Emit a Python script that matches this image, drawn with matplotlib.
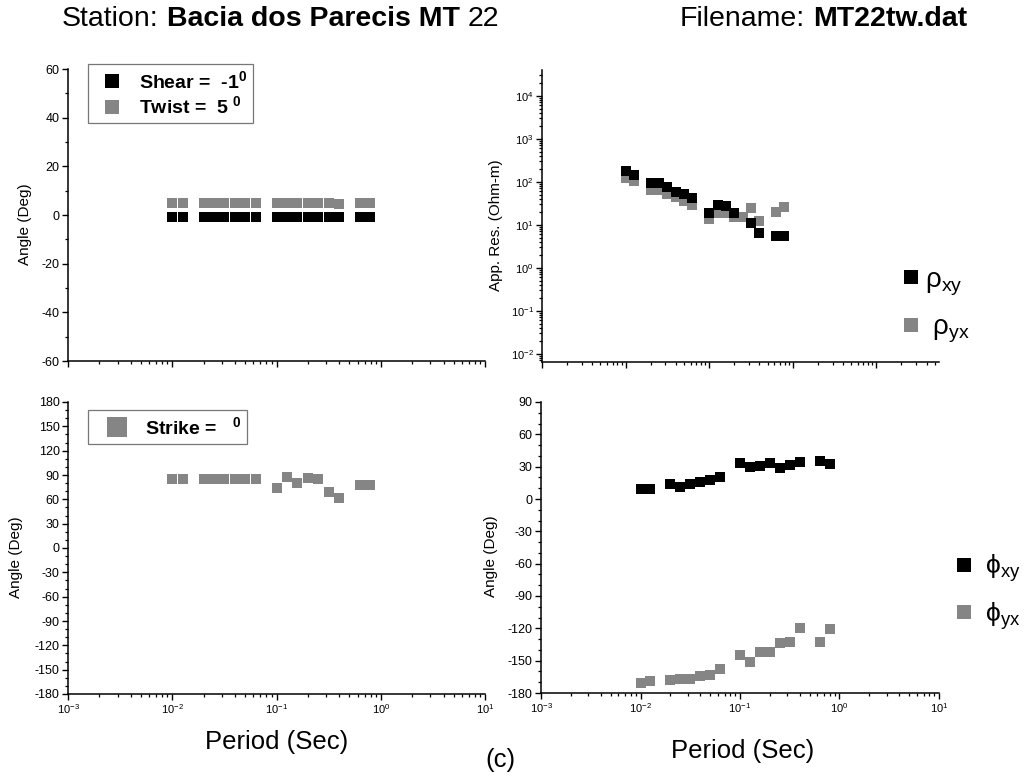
import numpy as np
import matplotlib
matplotlib.use("Agg")
import matplotlib.pyplot as plt
from matplotlib.ticker import MultipleLocator, FixedLocator, NullFormatter

plt.rcParams['font.family'] = ['Liberation Sans', 'DejaVu Sans']
plt.rcParams['mathtext.fontset'] = 'custom'
plt.rcParams['mathtext.rm'] = 'Liberation Sans'
plt.rcParams['mathtext.bf'] = 'Liberation Sans:bold'
plt.rcParams['mathtext.it'] = 'Liberation Sans:italic'
plt.rcParams['axes.unicode_minus'] = False

# ---------------- data ----------------
periods = [0.01, 0.0126, 0.02, 0.0251, 0.0316, 0.0398, 0.0501, 0.0631,
           0.1, 0.126, 0.158, 0.2, 0.251, 0.316, 0.398, 0.631, 0.794]
shear = [-1] * 17
twist = [5, 5, 5, 5, 5, 5, 5, 5, 5, 5, 5, 5, 5, 5, 4.4, 5, 5]
strike = [85.4, 85.4, 85.4, 85.4, 85.4, 85.4, 85.4, 85.4,
          74.3, 87.4, 80.4, 85.8, 84.5, 68.5, 61.5, 77.1, 77.1]

periods_rxy = [0.01, 0.0126, 0.02, 0.0251, 0.0316, 0.0398, 0.0501, 0.0631,
               0.1, 0.126, 0.158, 0.2, 0.316, 0.398, 0.631, 0.794]
rho_xy = [183, 146, 96, 93, 75, 59, 52, 42, 19.3, 29, 27.7, 19.3, 11, 6.6, 5.5, 5.5]
rho_yx = [122, 102, 63, 63, 53, 45, 35, 29, 13.5, 18.7, 18.7, 15.5, 15, 24.5, 12, 20.4, 25.7]

phi_xy = [9.3, 9.3, 13.9, 10.8, 13.9, 16, 17.6, 20.7, 33.6, 29.3, 30.6, 33,
          28.4, 31.5, 34.6, 35.5, 32.4]
phi_yx = [-171, -169, -167.6, -166.7, -166.7, -164.5, -163, -158, -144.8, -151.5,
          -142.3, -142.3, -133.6, -132.7, -119.8, -133, -121]

period_decades = [1e-3, 1e-2, 1e-1, 1e0, 1e1]
res_decades = [1e-2, 1e-1, 1e0, 1e1, 1e2, 1e3, 1e4]

BLACK = '#000000'
GRAY = '#858585'
MS = 7.2

W, H = 1027, 779
fig = plt.figure(figsize=(W / 100, H / 100), dpi=100)


def ax_at(x0, x1, y0, y1):
    return fig.add_axes([x0 / W, 1 - y1 / H, (x1 - x0) / W, (y1 - y0) / H])


def log_minors(decades, lo, hi):
    vals = []
    for d in decades:
        for k in range(2, 10):
            v = d * k
            if lo <= v <= hi:
                vals.append(v)
    return vals


ax_tl = ax_at(68, 485, 69, 361)
ax_tr = ax_at(542, 939, 70, 362)
ax_bl = ax_at(68, 485, 402, 694)
ax_br = ax_at(541, 939, 402, 693)

for ax in (ax_tl, ax_tr, ax_bl, ax_br):
    ax.set_xscale('log')
    for s in ('top', 'right'):
        ax.spines[s].set_visible(False)
    for s in ('left', 'bottom'):
        ax.spines[s].set_linewidth(1.1)
    ax.tick_params(which='major', direction='out', length=4, width=1.0,
                   labelsize=9, pad=2)
    ax.tick_params(axis='x', which='major', labelsize=8)
    ax.tick_params(which='minor', direction='out', length=2.4, width=0.9)
    ax.set_facecolor('none')

LBL = 11

# ---- top-left: shear & twist ----
l_sh, = ax_tl.plot(periods, shear, 's', color=BLACK, ms=MS, mew=0, clip_on=False)
l_tw, = ax_tl.plot(periods, twist, 's', color=GRAY, ms=MS, mew=0, clip_on=False)
ax_tl.set_xlim(1e-3, 1e1)
ax_tl.set_ylim(-60, 60)
ax_tl.yaxis.set_major_locator(MultipleLocator(20))
ax_tl.yaxis.set_minor_locator(MultipleLocator(10))
ax_tl.set_ylabel('Angle (Deg)', fontsize=LBL)
ax_tl.yaxis.set_label_coords(-0.086, 0.47)
leg = ax_tl.legend([l_sh, l_tw], [r'Shear =  -1$^{\mathbf{0}}$', r'Twist =  5 $^{\mathbf{0}}$'],
                   loc='upper left', bbox_to_anchor=(88 / W, 1 - 64 / H),
                   bbox_transform=fig.transFigure, borderaxespad=0,
                   prop={'weight': 'bold', 'size': 14}, markerscale=1.4,
                   frameon=True, fancybox=False, edgecolor='#555555',
                   handlelength=1.85, handletextpad=0.45, borderpad=0.3,
                   labelspacing=0.2)
leg.get_frame().set_linewidth(0.9)

# ---- top-right: apparent resistivity ----
ax_tr.set_yscale('log')
l_rxy, = ax_tr.plot(periods_rxy, rho_xy, 's', color=BLACK, ms=MS, mew=0, zorder=3)
l_ryx, = ax_tr.plot(periods, rho_yx, 's', color=GRAY, ms=MS, mew=0, zorder=2)
tr_xlim = (1e-3, 10 ** 1.75)
tr_ylim = (10 ** -2.19, 10 ** 4.6)
ax_tr.set_xlim(*tr_xlim)
ax_tr.set_ylim(*tr_ylim)
ax_tr.yaxis.set_major_locator(FixedLocator(res_decades))
ax_tr.yaxis.set_minor_locator(FixedLocator(log_minors([1e-3] + res_decades, *tr_ylim)))
ax_tr.yaxis.set_minor_formatter(NullFormatter())
ax_tr.tick_params(axis='y', which='major', labelsize=8)
ax_tr.xaxis.set_major_locator(FixedLocator(period_decades))
ax_tr.xaxis.set_minor_locator(FixedLocator(log_minors(period_decades, *tr_xlim)))
ax_tr.set_ylabel('App. Res. (Ohm-m)', fontsize=LBL)
ax_tr.yaxis.set_label_coords(-0.098, 0.47)
ax_tr.legend([l_rxy, l_ryx], [r'ρ$_{\mathrm{xy}}$', r' ρ$_{\mathrm{yx}}$'],
             loc='upper left', bbox_to_anchor=(886 / W, 1 - 256 / H),
             bbox_transform=fig.transFigure, borderaxespad=0, frameon=False,
             prop={'size': 20}, markerscale=1.45, handlelength=1.0,
             handletextpad=0.0, labelspacing=0.61)

# ---- bottom-left: strike ----
l_st, = ax_bl.plot(periods, strike, 's', color=GRAY, ms=MS, mew=0)
ax_bl.set_xlim(1e-3, 1e1)
ax_bl.set_ylim(-180, 180)
ax_bl.yaxis.set_major_locator(MultipleLocator(30))
ax_bl.yaxis.set_minor_locator(MultipleLocator(10))
ax_bl.set_ylabel('Angle (Deg)', fontsize=LBL)
ax_bl.yaxis.set_label_coords(-0.108, 0.47)
leg2 = ax_bl.legend([l_st], [r'Strike =   $^{\mathbf{0}}$'],
                    loc='upper left', bbox_to_anchor=(88 / W, 1 - 410 / H),
                    bbox_transform=fig.transFigure, borderaxespad=0,
                    prop={'weight': 'bold', 'size': 14}, markerscale=2.0,
                    frameon=True, fancybox=False, edgecolor='#555555',
                    handlelength=2.37, handletextpad=0.26, borderpad=0.3)
leg2.get_frame().set_linewidth(0.9)

# ---- bottom-right: phase ----
l_pxy, = ax_br.plot(periods, phi_xy, 's', color=BLACK, ms=MS, mew=0)
l_pyx, = ax_br.plot(periods, phi_yx, 's', color=GRAY, ms=MS, mew=0)
ax_br.set_xlim(1e-3, 1e1)
ax_br.set_ylim(-180, 90)
ax_br.yaxis.set_major_locator(MultipleLocator(30))
ax_br.yaxis.set_minor_locator(MultipleLocator(10))
ax_br.set_ylabel('Angle (Deg)', fontsize=LBL)
ax_br.yaxis.set_label_coords(-0.108, 0.47)
ax_br.legend([l_pxy, l_pyx], [r'ϕ$_{\mathrm{xy}}$', r'ϕ$_{\mathrm{yx}}$'],
             loc='upper left', bbox_to_anchor=(940 / W, 1 - 542 / H),
             bbox_transform=fig.transFigure, borderaxespad=0, frameon=False,
             prop={'size': 19}, markerscale=1.45, handlelength=1.0,
             handletextpad=0.3, labelspacing=0.6)

for ax in (ax_tl, ax_bl, ax_br):
    ax.xaxis.set_major_locator(FixedLocator(period_decades))
    ax.xaxis.set_minor_locator(FixedLocator(log_minors(period_decades[:-1], 1e-3, 1e1)))
for ax in (ax_tl, ax_tr, ax_bl, ax_br):
    ax.xaxis.set_minor_formatter(NullFormatter())
ax_tl.tick_params(axis='x', labelbottom=False)
ax_tr.tick_params(axis='x', labelbottom=False)

# ---- figure texts ----
renderer = fig.canvas.get_renderer()


def run_text(x_px, y_px, parts, size):
    """Place consecutive text pieces (text, weight) on one baseline."""
    x = x_px
    space = 0.278 * size * 100 / 72
    for txt, wt in parts:
        t = fig.text(x / W, 1 - y_px / H, txt, fontsize=size, weight=wt,
                     ha='left', va='baseline')
        bb = t.get_window_extent(renderer=renderer)
        x = bb.x1 + space


run_text(62, 26, [('Station:', 'normal'), ('Bacia dos Parecis MT', 'bold'), ('22', 'normal')], 20.5)
run_text(680, 26, [('Filename:', 'normal'), ('MT22tw.dat', 'bold')], 20.5)

fig.text(277 / W, 1 - 742 / H, 'Period (Sec)', fontsize=18.5, ha='center', va='center')
fig.text(743 / W, 1 - 751 / H, 'Period (Sec)', fontsize=18.5, ha='center', va='center')
fig.text(500 / W, 1 - 760 / H, '(c)', fontsize=18.5, ha='center', va='center')

fig.savefig('out.png', dpi=100)
